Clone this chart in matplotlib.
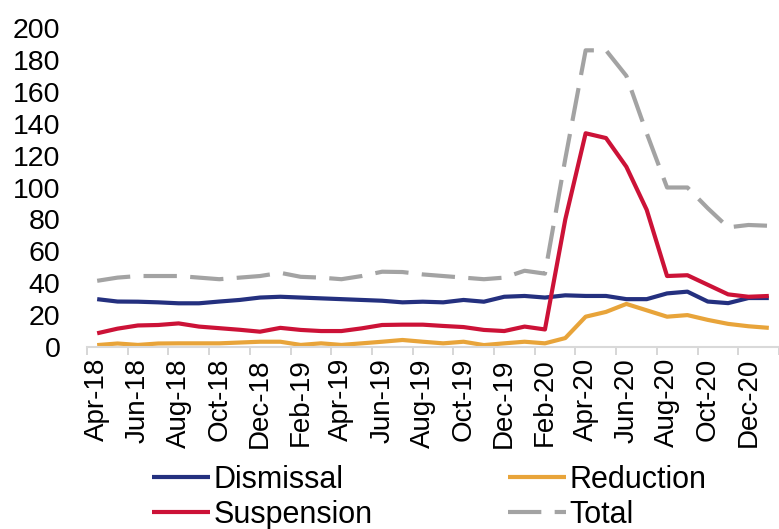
import matplotlib
matplotlib.use("Agg")
import matplotlib.pyplot as plt
import numpy as np

plt.rcParams['font.family'] = ['Liberation Sans', 'DejaVu Sans']

months = ["Apr-18", "May-18", "Jun-18", "Jul-18", "Aug-18", "Sep-18", "Oct-18", "Nov-18",
          "Dec-18", "Jan-19", "Feb-19", "Mar-19", "Apr-19", "May-19", "Jun-19", "Jul-19",
          "Aug-19", "Sep-19", "Oct-19", "Nov-19", "Dec-19", "Jan-20", "Feb-20", "Mar-20",
          "Apr-20", "May-20", "Jun-20", "Jul-20", "Aug-20", "Sep-20", "Oct-20", "Nov-20",
          "Dec-20", "Jan-21"]

dismissal = [30, 28.5, 28.4, 28, 27.4, 27.4, 28.5, 29.5, 31, 31.5, 31, 30.5, 30, 29.5, 29, 28,
             28.4, 28, 29.5, 28.4, 31.5, 32, 31, 32.4, 32, 32, 30, 30, 33.6, 34.7, 28.5, 27.5,
             30.7, 30.7]
reduction = [1.2, 2.2, 1.3, 2.2, 2.3, 2.3, 2.3, 2.8, 3.3, 3.3, 1.3, 2.3, 1.3, 2.3, 3.3, 4.4,
             3.3, 2.3, 3.3, 1.2, 2.3, 3.3, 2.3, 5.6, 19, 22, 27, 23, 19, 20, 17, 14.5, 13, 12]
suspension = [8.6, 11.5, 13.5, 13.8, 14.8, 12.8, 11.8, 10.8, 9.6, 12, 10.7, 10, 10, 11.7, 13.8, 14,
              14, 13.2, 12.5, 10.7, 10, 12.8, 11, 80, 134, 131, 113, 86, 44.5, 45, 39, 33,
              31.5, 32]
total = [41.5, 43.5, 44.5, 44.5, 44.5, 43.5, 42.5, 43.5, 44.5, 46.5, 44, 43.5, 42.5, 44.5, 47.2, 47,
         45.5, 44.5, 43.5, 42.5, 43.5, 47.8, 46, 118, 186, 186, 170, 134, 100, 100, 87, 75,
         76.5, 76]

yticks = [0, 20, 40, 60, 80, 100, 120, 140, 160, 180, 200]

W, H = 779, 529
fig = plt.figure(figsize=(W / 100, H / 100), dpi=100)
ax = fig.add_axes([87 / W, 1 - 347 / H, 1 - 87 / W, (347 - 28) / H])

x = np.arange(len(months))
lw = 3.0
ax.plot(x, dismissal, color="#24307f", lw=lw, label="Dismissal", solid_capstyle="butt")
ax.plot(x, suspension, color="#cc1237", lw=lw, label="Suspension", solid_capstyle="butt")
ax.plot(x, reduction, color="#e8a43a", lw=lw, label="Reduction", solid_capstyle="butt")
ax.plot(x, total, color="#a3a3a3", lw=lw, ls=(0, (8, 3.2)), label="Total")

ax.set_xlim(-0.5, len(months) - 1)
ax.set_ylim(0, 200)
ax.set_yticks(yticks)
ax.set_yticklabels([str(v) for v in yticks], fontsize=20.5)
ax.tick_params(axis='y', length=0, pad=19)

major = x[::2]
ax.set_xticks(major)
ax.set_xticklabels([months[i] for i in major], rotation=90, fontsize=20)
ax.set_xticks(np.arange(-0.5, len(months), 2), minor=True)
ax.tick_params(axis='x', which='major', length=0, pad=8)
ax.tick_params(axis='x', which='minor', length=6, width=1.2, color="#d0d0d0")

for s in ["top", "right", "left"]:
    ax.spines[s].set_visible(False)
ax.spines["bottom"].set_color("#d9d9d9")
ax.spines["bottom"].set_linewidth(1.5)

fig.legend(ncol=2, frameon=False,
           loc="upper left", bbox_to_anchor=(152 / W, 1 - 465 / H), fontsize=22,
           handlelength=1.9, handletextpad=0.1, columnspacing=4.45, labelspacing=0.15,
           borderpad=0, borderaxespad=0)

fig.savefig("out.png", dpi=100)
